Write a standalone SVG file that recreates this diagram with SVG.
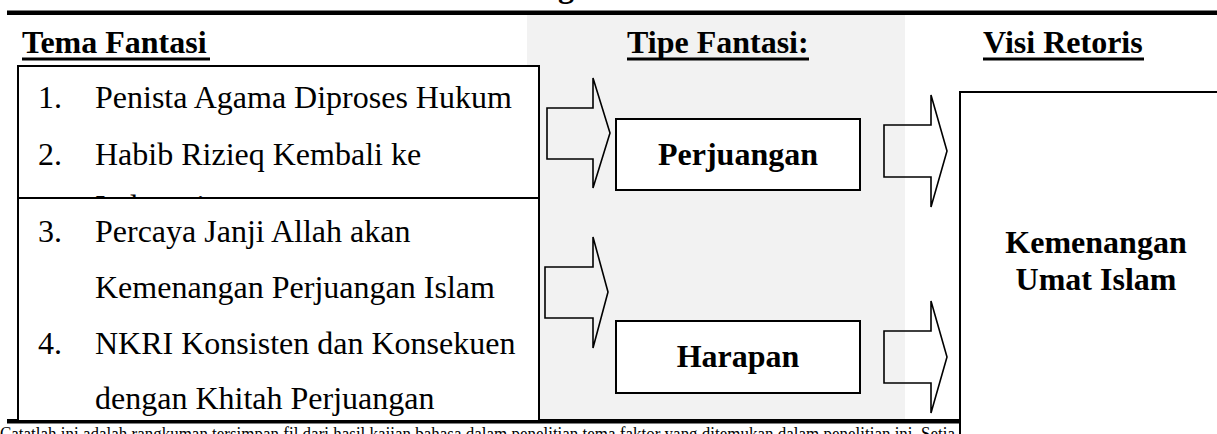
<svg xmlns="http://www.w3.org/2000/svg" width="1217" height="434" viewBox="0 0 1217 434">
<style>
.hd{font-family:"Liberation Serif","DejaVu Serif",serif;font-weight:bold;font-size:32px;fill:#000}
.tx{font-family:"Liberation Serif","DejaVu Serif",serif;font-size:32px;fill:#000}
.lb{font-family:"Liberation Serif","DejaVu Serif",serif;font-weight:bold;font-size:32px;fill:#000;text-anchor:middle}
.cap{font-family:"Liberation Serif","DejaVu Serif",serif;font-size:19px;fill:#000}
.box{fill:#fff;stroke:#000;stroke-width:2}
.arr{fill:none;stroke:#000;stroke-width:1.6;stroke-linejoin:miter}
</style>
<rect x="0" y="0" width="1217" height="434" fill="#fff"/>
<rect x="527" y="15" width="378" height="405" fill="#f2f2f2"/>
<text class="hd" x="558" y="-3">g</text>
<rect x="7" y="10.5" width="1210" height="4.5" fill="#000"/>
<g id="headers">
<text class="hd" x="22" y="53">Tema Fantasi</text>
<rect x="22" y="57.5" width="188" height="3" fill="#000"/>
<text class="hd" x="627" y="53">Tipe Fantasi:</text>
<rect x="627" y="57.5" width="182" height="3" fill="#000"/>
<text class="hd" x="983" y="53">Visi Retoris</text>
<rect x="983" y="57.5" width="161" height="3" fill="#000"/>
</g>
<text class="cap" x="0" y="440" textLength="955" lengthAdjust="spacingAndGlyphs">Catatlah ini adalah rangkuman tersimpan fil dari hasil kajian bahasa dalam penelitian tema faktor yang ditemukan dalam penelitian ini. Setia</text>
<rect x="7" y="419" width="953" height="4.5" fill="#000"/>
<g id="tema1">
<rect class="box" x="18" y="66" width="521" height="132"/>
<text class="tx" x="38" y="108">1.</text>
<text class="tx" x="95" y="108">Penista Agama Diproses Hukum</text>
<text class="tx" x="38" y="165">2.</text>
<text class="tx" x="95" y="165">Habib Rizieq Kembali ke</text>
<text class="tx" x="95" y="217">Indonesia</text>
</g>
<g id="tema2">
<rect class="box" x="18" y="198" width="521" height="223"/>
<text class="tx" x="38" y="242">3.</text>
<text class="tx" x="95" y="242">Percaya Janji Allah akan</text>
<text class="tx" x="95" y="298">Kemenangan Perjuangan Islam</text>
<text class="tx" x="38" y="354">4.</text>
<text class="tx" x="95" y="354">NKRI Konsisten dan Konsekuen</text>
<text class="tx" x="95" y="409">dengan Khitah Perjuangan</text>
</g>
<g id="perjuangan">
<rect class="box" x="616" y="119" width="244" height="71"/>
<text class="lb" x="738" y="165">Perjuangan</text>
</g>
<g id="harapan">
<rect class="box" x="616" y="321" width="244" height="72"/>
<text class="lb" x="738" y="367">Harapan</text>
</g>
<g id="visi">
<rect class="box" x="960" y="92" width="270" height="360"/>
<text class="lb" x="1096" y="253">Kemenangan</text>
<text class="lb" x="1096" y="290">Umat Islam</text>
</g>
<g id="connectors">
<polygon class="arr" points="547,108 593,108 593,78 610,133 593,188 593,159 547,159"/>
<polygon class="arr" points="545,267 593,267 593,237 608,292 593,348 593,318 545,318"/>
<polygon class="arr" points="884,125 931,125 931,95 947,151 931,207 931,177 884,177"/>
<polygon class="arr" points="884,331 931,331 931,301 947,357 931,413 931,383 884,383"/>
</g>
</svg>
